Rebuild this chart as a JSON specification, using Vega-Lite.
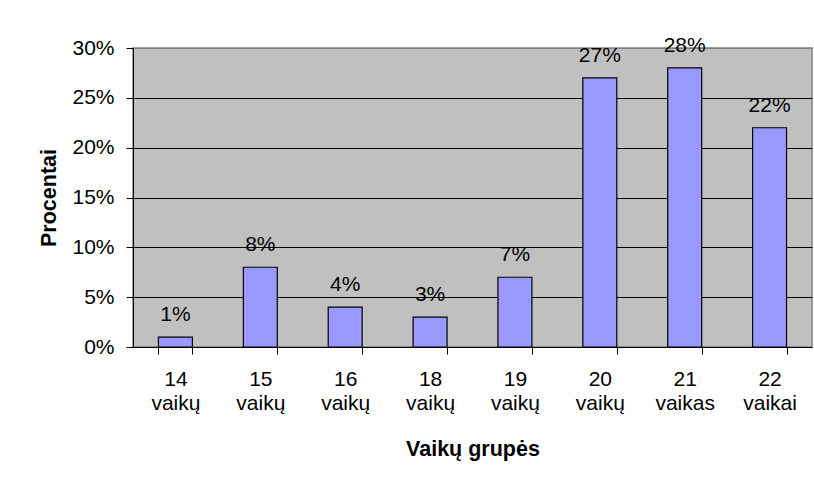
{
  "$schema": "https://vega.github.io/schema/vega-lite/v6.json",
  "width": 679,
  "height": 299,
  "autosize": "none",
  "padding": {"left": 133, "top": 48, "right": 2, "bottom": 135},
  "background": "white",
  "config": {
    "font": "Liberation Sans",
    "view": {"fill": "#C0C0C0", "stroke": "#808080", "strokeWidth": 1.5}
  },
  "data": {
    "values": [
      {"group": "14 vaikų", "value": 0.01},
      {"group": "15 vaikų", "value": 0.08},
      {"group": "16 vaikų", "value": 0.04},
      {"group": "18 vaikų", "value": 0.03},
      {"group": "19 vaikų", "value": 0.07},
      {"group": "20 vaikų", "value": 0.27},
      {"group": "21 vaikas", "value": 0.28},
      {"group": "22 vaikai", "value": 0.22}
    ]
  },
  "encoding": {
    "x": {
      "field": "group",
      "type": "nominal",
      "sort": null,
      "scale": {"paddingInner": 0.6, "paddingOuter": 0.3},
      "axis": {
        "title": "Vaikų grupės",
        "titleFontSize": 21.5,
        "titleFontWeight": "bold",
        "titleColor": "black",
        "titlePadding": 25,
        "labelAngle": 0,
        "labelFontSize": 21,
        "labelColor": "black",
        "labelPadding": 14,
        "labelLineHeight": 24,
        "labelExpr": "split(datum.label, ' ')",
        "tickBand": "extent",
        "tickSize": 7,
        "tickColor": "black",
        "domainColor": "black",
        "grid": false
      }
    },
    "y": {
      "field": "value",
      "type": "quantitative",
      "scale": {"domain": [0, 0.3]},
      "axis": {
        "title": "Procentai",
        "titleFontSize": 21.5,
        "titleFontWeight": "bold",
        "titleColor": "black",
        "titlePadding": 11,
        "values": [0, 0.05, 0.1, 0.15, 0.2, 0.25, 0.3],
        "format": ".0%",
        "labelFontSize": 21,
        "labelColor": "black",
        "labelPadding": 12,
        "tickSize": 7,
        "tickColor": "black",
        "domainColor": "black",
        "grid": true,
        "gridColor": {"condition": {"test": "datum.value >= 0.3", "value": "#808080"}, "value": "black"},
        "gridOpacity": 1
      }
    }
  },
  "layer": [
    {
      "mark": {"type": "bar", "fill": "#9999FF", "stroke": "black", "strokeWidth": 1.2}
    },
    {
      "mark": {"type": "text", "baseline": "alphabetic", "dy": -16, "fontSize": 21, "color": "black"},
      "encoding": {"text": {"field": "value", "type": "quantitative", "format": ".0%"}}
    }
  ]
}
